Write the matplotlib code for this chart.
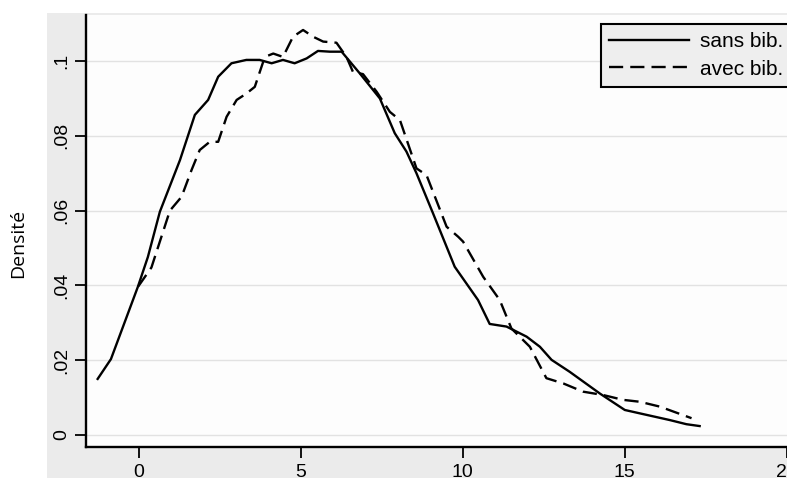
import matplotlib
matplotlib.use('Agg')
import matplotlib.pyplot as plt

# courbe sans bib.
x_sans = [-1.27, -0.86, -0.03, 0.28, 0.65, 1.27, 1.73, 2.14, 2.45, 2.86, 3.32, 3.73, 4.1, 4.45,
          4.81, 5.18, 5.53, 5.9, 6.26, 6.82, 7.44, 7.9, 8.26, 8.57, 9.08, 9.75, 10.47, 10.83,
          11.35, 11.97, 12.38, 12.74, 13.3, 14.23, 15.0, 15.46, 16.39, 16.9, 17.31]
y_sans = [0.015, 0.0203, 0.0396, 0.0476, 0.0597, 0.0735, 0.0856, 0.0896, 0.0958, 0.0994, 0.1003,
          0.1003, 0.0994, 0.1003, 0.0994, 0.1007, 0.1027, 0.1025, 0.1025, 0.0967, 0.0900, 0.0807,
          0.0758, 0.0700, 0.0593, 0.0450, 0.0361, 0.0297, 0.0290, 0.0263, 0.0236, 0.0201, 0.0169,
          0.0111, 0.0067, 0.0058, 0.0040, 0.0029, 0.0024]

# courbe avec bib.
x_avec = [-0.02, 0.39, 0.96, 1.32, 1.63, 1.88, 2.19, 2.45, 2.71, 3.02, 3.32, 3.58, 3.89, 4.15,
          4.45, 4.76, 5.07, 5.38, 5.69, 6.1, 6.41, 6.61, 6.92, 7.34, 7.75, 8.06, 8.57, 8.88,
          9.5, 9.86, 10.01, 10.63, 11.14, 11.5, 12.07, 12.58, 13.1, 13.71, 14.33, 14.95, 15.46,
          16.08, 16.65, 17.06]
y_avec = [0.0397, 0.0448, 0.0600, 0.0637, 0.0709, 0.0762, 0.0784, 0.0784, 0.0851, 0.0896, 0.0913,
          0.0931, 0.1011, 0.1020, 0.1011, 0.1065, 0.1083, 0.1065, 0.1052, 0.1049, 0.1011, 0.0971,
          0.0965, 0.0918, 0.0864, 0.0842, 0.0713, 0.0695, 0.0557, 0.0530, 0.0517, 0.0423, 0.0361,
          0.0285, 0.0236, 0.0152, 0.0138, 0.0116, 0.0107, 0.0094, 0.0089, 0.0076, 0.0058, 0.0045]

xticks = [0, 5, 10, 15, 20]
yticks = [0, 0.02, 0.04, 0.06, 0.08, 0.1]
ylabels = ['0', '.02', '.04', '.06', '.08', '.1']

W, H = 787, 478
fig = plt.figure(figsize=(W / 100, H / 100), dpi=100)
fig.patch.set_facecolor('white')

# fond gris de la zone graphique (scan)
bg = fig.add_axes([47 / W, 0, 1 - 47 / W, 1 - 13 / H], zorder=-1)
bg.set_facecolor('#ebebeb')
bg.set_xticks([])
bg.set_yticks([])
for s in bg.spines.values():
    s.set_visible(False)

# axes : x=-1.645 a 85.5px, 32.4 px par unite ; y=0 a 435px, 3740 px par unite
x0, x1 = -1.645, 21.0
y0, y1 = -0.0032, 0.1123
left = 85.5 / W
bottom = (H - 447) / H
width = (x1 - x0) * 32.4 / W
height = (y1 - y0) * 3740 / H
ax = fig.add_axes([left, bottom, width, height], zorder=1)
ax.set_facecolor('#fdfdfd')

ax.plot(x_sans, y_sans, color='black', lw=1.7, label='sans bib.', zorder=3)
ax.plot(x_avec, y_avec, color='black', lw=1.7, ls=(0, (6, 3)), label='avec bib.', zorder=3)

ax.set_xlim(x0, x1)
ax.set_ylim(y0, y1)
ax.set_xticks(xticks)
ax.set_xticklabels([str(t) for t in xticks], fontsize=14, family='Liberation Sans')
ax.set_yticks(yticks)
ax.set_yticklabels(ylabels, fontsize=14, family='Liberation Sans', rotation=90, va='center')
ax.tick_params(axis='x', length=8, width=1.3, color='black', pad=4)
ax.tick_params(axis='y', length=8, width=1.3, color='black', pad=3)
ax.yaxis.grid(True, color='#e2e2e2', lw=1.0)
ax.set_axisbelow(True)
for s in ['top', 'right']:
    ax.spines[s].set_visible(False)
for s in ['left', 'bottom']:
    ax.spines[s].set_linewidth(1.7)

fig.text(18 / W, 1 - 243 / H, 'Densité', rotation=90, ha='center', va='center',
         fontsize=14, family='Open Sans')

leg = ax.legend(loc='upper left', bbox_to_anchor=((601 - 85.5) / (width * W), (447 - 24) / (height * H)),
                frameon=True, fancybox=False, prop={'family': 'Liberation Sans', 'size': 15},
                handlelength=3.8, handletextpad=0.55, borderpad=0.4, labelspacing=0.4,
                borderaxespad=0)
leg.get_frame().set_facecolor('#eeeeee')
leg.get_frame().set_edgecolor('black')
leg.get_frame().set_linewidth(1.5)
leg.get_frame().set_alpha(1)

fig.savefig('out.png', dpi=100, facecolor=fig.get_facecolor())
